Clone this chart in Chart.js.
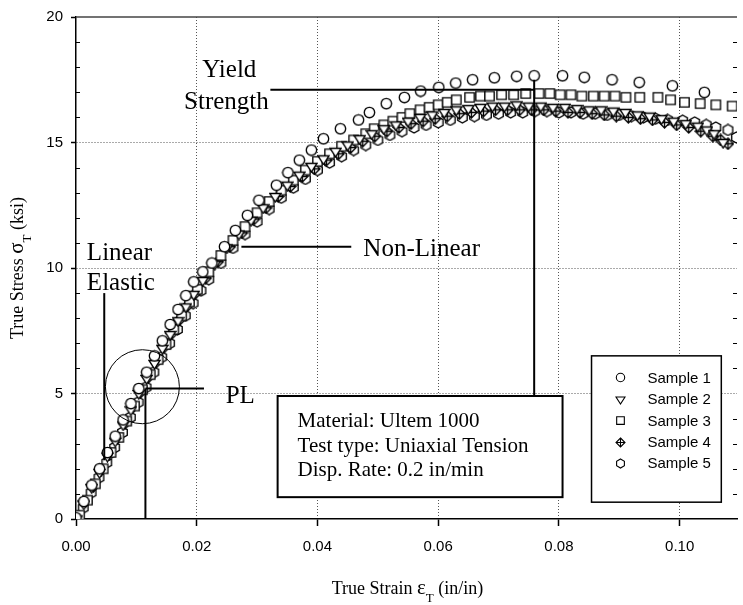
<!DOCTYPE html>
<html>
<head>
<meta charset="utf-8">
<script src="https://cdn.jsdelivr.net/npm/chart.js@4.4.1/dist/chart.umd.min.js"></script>
<style>
  html, body { margin: 0; padding: 0; background: #fff; }
  #c { display: block; }
</style>
</head>
<body>
<canvas id="c" width="743" height="605"></canvas>
<script>
// sample names and marker shapes
const sampleNames = ['Sample 1', 'Sample 2', 'Sample 3', 'Sample 4', 'Sample 5'];
const markerKinds = ['circle', 'triangle', 'square', 'diamond', 'hexagon'];

// true strain (in/in) / true stress (ksi)
const s1Strain = [0, 0.0013, 0.0026, 0.0039, 0.0052, 0.0065, 0.0078, 0.0091, 0.0104, 0.0117, 0.013, 0.0143, 0.0156, 0.0169, 0.0182, 0.0195, 0.021, 0.0225, 0.0246, 0.0264, 0.0284, 0.0303, 0.0332, 0.0351, 0.037, 0.039, 0.041, 0.0438, 0.0468, 0.0486, 0.0514, 0.0544, 0.0571, 0.0601, 0.0629, 0.0657, 0.0693, 0.073, 0.0759, 0.0806, 0.0842, 0.0888, 0.0933, 0.0988, 0.1041];
const s1Stress = [0.05, 0.7, 1.35, 2.0, 2.65, 3.3, 3.95, 4.6, 5.2, 5.85, 6.5, 7.1, 7.75, 8.35, 8.9, 9.45, 9.85, 10.2, 10.85, 11.5, 12.1, 12.7, 13.3, 13.8, 14.3, 14.7, 15.15, 15.55, 15.9, 16.2, 16.55, 16.8, 17.05, 17.2, 17.37, 17.5, 17.58, 17.64, 17.66, 17.66, 17.6, 17.5, 17.4, 17.26, 17.0];

const s2Strain = [0, 0.0013, 0.0026, 0.0039, 0.0052, 0.0065, 0.0078, 0.0091, 0.0104, 0.0117, 0.013, 0.0143, 0.0156, 0.0169, 0.0182, 0.0195, 0.021, 0.023, 0.025, 0.027, 0.029, 0.031, 0.033, 0.035, 0.037, 0.039, 0.041, 0.043, 0.045, 0.047, 0.049, 0.051, 0.053, 0.055, 0.057, 0.059, 0.061, 0.063, 0.065, 0.067, 0.069, 0.071, 0.073, 0.075, 0.077, 0.079, 0.081, 0.083, 0.085, 0.087, 0.089, 0.091, 0.093, 0.095, 0.097, 0.099, 0.101, 0.103, 0.1045, 0.1057, 0.1072];
const s2Stress = [0, 0.6, 1.25, 1.85, 2.5, 3.1, 3.75, 4.35, 5.0, 5.6, 6.2, 6.8, 7.35, 7.9, 8.45, 8.95, 9.5, 10.15, 10.8, 11.35, 11.9, 12.4, 12.85, 13.3, 13.7, 14.05, 14.35, 14.65, 14.9, 15.15, 15.35, 15.55, 15.7, 15.85, 16.0, 16.1, 16.2, 16.3, 16.35, 16.4, 16.45, 16.45, 16.5, 16.45, 16.45, 16.4, 16.4, 16.35, 16.3, 16.3, 16.25, 16.2, 16.1, 16.05, 15.95, 15.85, 15.75, 15.65, 15.5, 15.35, 15.0];

const s3Strain = [0.0006, 0.0019, 0.0032, 0.0045, 0.0058, 0.0071, 0.0084, 0.0097, 0.011, 0.0123, 0.0136, 0.0149, 0.0162, 0.0175, 0.0188, 0.0201, 0.022, 0.024, 0.026, 0.028, 0.030, 0.032, 0.034, 0.036, 0.038, 0.040, 0.042, 0.044, 0.046, 0.048, 0.0494, 0.051, 0.0525, 0.054, 0.0553, 0.057, 0.0585, 0.060, 0.0615, 0.063, 0.0652, 0.067, 0.0685, 0.0705, 0.0725, 0.0745, 0.0767, 0.0785, 0.0802, 0.0820, 0.0838, 0.0857, 0.0875, 0.0893, 0.0911, 0.0934, 0.0964, 0.0985, 0.1008, 0.1034, 0.106, 0.1087];
const s3Stress = [0.15, 0.75, 1.4, 2.0, 2.65, 3.25, 3.9, 4.5, 5.15, 5.75, 6.35, 6.95, 7.55, 8.1, 8.65, 9.15, 9.85, 10.5, 11.1, 11.65, 12.2, 12.65, 13.1, 13.5, 13.9, 14.25, 14.55, 14.85, 15.1, 15.35, 15.55, 15.7, 15.85, 16.0, 16.15, 16.3, 16.4, 16.5, 16.6, 16.7, 16.8, 16.85, 16.85, 16.9, 16.9, 16.95, 16.95, 16.95, 16.9, 16.9, 16.85, 16.85, 16.85, 16.85, 16.8, 16.8, 16.8, 16.7, 16.6, 16.55, 16.5, 16.45];

const s4Strain = [0.0003, 0.0016, 0.0029, 0.0042, 0.0055, 0.0068, 0.0081, 0.0094, 0.0107, 0.012, 0.0133, 0.0146, 0.0159, 0.0172, 0.0185, 0.0198, 0.0215, 0.0235, 0.0255, 0.0275, 0.0295, 0.0315, 0.0335, 0.0355, 0.0375, 0.0395, 0.0415, 0.0435, 0.0455, 0.0475, 0.0495, 0.0515, 0.0535, 0.0555, 0.0575, 0.0595, 0.0615, 0.0635, 0.0655, 0.0675, 0.0695, 0.0715, 0.0735, 0.0755, 0.0775, 0.0795, 0.0815, 0.0835, 0.0855, 0.0875, 0.0895, 0.0915, 0.0935, 0.0955, 0.0975, 0.0995, 0.1015, 0.1035, 0.1055, 0.1068, 0.108];
const s4Stress = [0.1, 0.7, 1.3, 1.95, 2.55, 3.2, 3.8, 4.45, 5.05, 5.65, 6.25, 6.85, 7.4, 7.95, 8.5, 9.0, 9.6, 10.25, 10.85, 11.4, 11.95, 12.4, 12.85, 13.25, 13.65, 13.95, 14.3, 14.55, 14.8, 15.05, 15.25, 15.45, 15.6, 15.75, 15.85, 15.95, 16.05, 16.15, 16.2, 16.25, 16.3, 16.3, 16.3, 16.3, 16.3, 16.25, 16.2, 16.2, 16.15, 16.1, 16.05, 16.0, 15.95, 15.9, 15.8, 15.7, 15.6, 15.45, 15.25, 15.1, 14.95];

const s5Strain = [0.0001, 0.0012, 0.0025, 0.0038, 0.0051, 0.0064, 0.0077, 0.009, 0.0103, 0.0116, 0.0129, 0.0142, 0.0155, 0.0168, 0.0181, 0.0194, 0.0207, 0.022, 0.024, 0.026, 0.028, 0.030, 0.032, 0.034, 0.036, 0.038, 0.040, 0.042, 0.044, 0.046, 0.048, 0.050, 0.052, 0.054, 0.056, 0.058, 0.060, 0.062, 0.064, 0.066, 0.068, 0.070, 0.072, 0.074, 0.076, 0.078, 0.080, 0.082, 0.084, 0.086, 0.088, 0.090, 0.092, 0.094, 0.096, 0.098, 0.1005, 0.1025, 0.1044, 0.106, 0.108, 0.1094];
const s5Stress = [0.05, 0.45, 1.05, 1.65, 2.25, 2.85, 3.45, 4.05, 4.65, 5.25, 5.85, 6.45, 7.0, 7.55, 8.1, 8.6, 9.1, 9.55, 10.2, 10.8, 11.35, 11.85, 12.35, 12.8, 13.2, 13.55, 13.9, 14.2, 14.45, 14.7, 14.9, 15.1, 15.3, 15.45, 15.6, 15.7, 15.8, 15.9, 16.0, 16.05, 16.1, 16.15, 16.2, 16.2, 16.25, 16.25, 16.2, 16.2, 16.15, 16.15, 16.1, 16.1, 16.05, 16.0, 15.95, 15.9, 15.87, 15.8, 15.7, 15.6, 15.5, 15.2];

// axes
const xTicks = [0, 0.02, 0.04, 0.06, 0.08, 0.10];
const yTicks = [0, 5, 10, 15, 20];
const yMinorTicks = [1, 2, 3, 4, 6, 7, 8, 9, 11, 12, 13, 14, 16, 17, 18, 19];
const infoLines = ['Material: Ultem 1000', 'Test type: Uniaxial Tension', 'Disp. Rate: 0.2 in/min'];

const SERIF = '"Liberation Serif", "Times New Roman", serif';
const SANS = '"Liberation Sans", Arial, sans-serif';

function marker(kind, size, lw) {
  const c = document.createElement('canvas');
  c.width = size; c.height = size;
  const g = c.getContext('2d');
  const m = size / 2, r = size / 2 - 1;
  g.lineWidth = lw;
  g.strokeStyle = '#000';
  g.fillStyle = '#fff';
  g.beginPath();
  if (kind === 'circle') {
    g.arc(m, m, r - 0.3, 0, Math.PI * 2);
  } else if (kind === 'triangle') {
    g.moveTo(m - r, m - r * 0.55); g.lineTo(m + r, m - r * 0.55); g.lineTo(m, m + r); g.closePath();
  } else if (kind === 'square') {
    g.rect(m - r * 0.85, m - r * 0.85, r * 1.7, r * 1.7);
  } else if (kind === 'diamond') {
    g.moveTo(m, m - r); g.lineTo(m + r, m); g.lineTo(m, m + r); g.lineTo(m - r, m); g.closePath();
  } else {
    for (let k = 0; k < 6; k++) {
      const a = -Math.PI / 2 + k * Math.PI / 3;
      const px = m + r * Math.cos(a), py = m + r * Math.sin(a);
      if (k) g.lineTo(px, py); else g.moveTo(px, py);
    }
    g.closePath();
  }
  g.fill();
  g.stroke();
  if (kind === 'diamond') {
    g.beginPath();
    g.moveTo(m, m - r); g.lineTo(m, m + r);
    g.moveTo(m - r, m); g.lineTo(m + r, m);
    g.stroke();
  }
  return c;
}

const strains = [s1Strain, s2Strain, s3Strain, s4Strain, s5Strain];
const stresses = [s1Stress, s2Stress, s3Stress, s4Stress, s5Stress];
const legendMarkers = markerKinds.map(k => marker(k, 11, 1.1));

const datasets = sampleNames.map((name, i) => ({
  label: name,
  data: strains[i].map((x, j) => ({ x: x, y: stresses[i][j] })),
  pointStyle: marker(markerKinds[i], 13, 1.35),
  pointRadius: 5,
  showLine: false
}));

function line(ctx, x1, y1, x2, y2) {
  ctx.beginPath(); ctx.moveTo(x1, y1); ctx.lineTo(x2, y2); ctx.stroke();
}

function drawParts(ctx, parts, cx, cy) {
  let w = 0;
  parts.forEach(p => { ctx.font = p.font; w += ctx.measureText(p.text).width; });
  let x = cx - w / 2;
  ctx.textAlign = 'left';
  ctx.textBaseline = 'alphabetic';
  parts.forEach(p => {
    ctx.font = p.font;
    ctx.fillText(p.text, x, cy + (p.dy || 0));
    x += ctx.measureText(p.text).width;
  });
}

const xTitle = [
  { text: 'True Strain ', font: '18px ' + SERIF },
  { text: 'ε', font: '21px ' + SERIF },
  { text: 'T', font: '13px ' + SERIF, dy: 8 },
  { text: ' (in/in)', font: '18px ' + SERIF }
];
const yTitle = [
  { text: 'True Stress ', font: '18px ' + SERIF },
  { text: 'σ', font: '21px ' + SERIF },
  { text: 'T', font: '13px ' + SERIF, dy: 8 },
  { text: ' (ksi)', font: '18px ' + SERIF }
];

const decorations = {
  id: 'decorations',
  afterDatasetsDraw(chart) {
    const { ctx, scales: { x, y } } = chart;
    const X = v => x.getPixelForValue(v), Y = v => y.getPixelForValue(v);
    ctx.save();
    ctx.strokeStyle = '#000';
    ctx.fillStyle = '#000';

    // proportional limit circle
    ctx.lineWidth = 1;
    ctx.beginPath(); ctx.arc(X(0.011), Y(5.27), 37, 0, Math.PI * 2); ctx.stroke();

    ctx.lineWidth = 2;
    line(ctx, X(0.0115), Y(5.2), X(0.0212), Y(5.2));
    line(ctx, X(0.0115), Y(5.2), X(0.0115), Y(0));
    line(ctx, X(0.00468), Y(9.0), X(0.00468), Y(2.34));
    line(ctx, X(0.0274), Y(10.85), X(0.0456), Y(10.85));
    line(ctx, X(0.0322), Y(17.1), X(0.0759), Y(17.1));
    line(ctx, X(0.0759), Y(17.5), X(0.0759), Y(4.9));

    ctx.textAlign = 'left';
    ctx.textBaseline = 'alphabetic';
    ctx.font = '25px ' + SERIF;
    ctx.fillText('Yield', X(0.0209), Y(17.62));
    ctx.fillText('Strength', X(0.0179), Y(16.35));
    ctx.fillText('Linear', X(0.0018), Y(10.33));
    ctx.fillText('Elastic', X(0.0018), Y(9.14));
    ctx.fillText('Non-Linear', X(0.0476), Y(10.49));
    ctx.fillText('PL', X(0.0248), Y(4.63));

    // info box
    const bl = X(0.0334), br = X(0.0806), bt = Y(4.9), bb = Y(0.87);
    ctx.fillStyle = '#fff';
    ctx.fillRect(bl, bt, br - bl, bb - bt);
    ctx.lineWidth = 2;
    ctx.strokeRect(bl, bt, br - bl, bb - bt);
    ctx.fillStyle = '#000';
    ctx.font = '21px ' + SERIF;
    infoLines.forEach((t, i) => ctx.fillText(t, bl + 20, bt + 31 + i * 24.5));

    // legend box
    const ll = X(0.0854), lr = X(0.1069), lt = Y(6.5), lb = Y(0.67);
    ctx.fillStyle = '#fff';
    ctx.fillRect(ll, lt, lr - ll, lb - lt);
    ctx.lineWidth = 1.5;
    ctx.strokeRect(ll, lt, lr - ll, lb - lt);
    ctx.fillStyle = '#000';
    ctx.font = '15px ' + SANS;
    chart.data.datasets.forEach((ds, i) => {
      const base = lt + 27 + i * 21.4;
      const img = legendMarkers[i];
      ctx.drawImage(img, Math.round(ll + 29 - img.width / 2), Math.round(base - 5 - img.height / 2));
      ctx.fillText(ds.label, ll + 56, base);
    });
    ctx.restore();
  },
  afterDraw(chart) {
    const { ctx, chartArea: a, scales: { y } } = chart;
    ctx.save();
    // top frame line
    ctx.strokeStyle = '#444';
    ctx.lineWidth = 1.5;
    line(ctx, a.left, a.top, a.right, a.top);
    // minor y ticks, inside
    ctx.strokeStyle = '#000';
    ctx.lineWidth = 1;
    yMinorTicks.forEach(v => {
      const py = Math.round(y.getPixelForValue(v)) + 0.5;
      line(ctx, a.left, py, a.left + 4, py);
      line(ctx, a.right - 4, py, a.right, py);
    });
    // axis titles
    ctx.fillStyle = '#000';
    drawParts(ctx, xTitle, (a.left + a.right) / 2 + 1, 594);
    ctx.translate(23, (a.top + a.bottom) / 2);
    ctx.rotate(-Math.PI / 2);
    drawParts(ctx, yTitle, 0, 0);
    ctx.restore();
  }
};

new Chart(document.getElementById('c'), {
  type: 'scatter',
  data: { datasets: datasets },
  options: {
    responsive: false,
    animation: false,
    devicePixelRatio: 1,
    events: [],
    layout: { padding: { top: 14, right: 0, bottom: 0, left: 0 } },
    plugins: { legend: { display: false }, tooltip: { enabled: false } },
    scales: {
      x: {
        type: 'linear',
        min: 0,
        max: 0.1095,
        afterBuildTicks: s => { s.ticks = xTicks.map(v => ({ value: v })); },
        afterFit: s => { s.height = 86; },
        ticks: {
          font: { family: SANS, size: 15 },
          color: '#000',
          padding: 12,
          maxRotation: 0,
          autoSkip: false,
          callback: v => Number(v).toFixed(2)
        },
        grid: {
          color: c => (c.tick && c.tick.value === 0) ? 'rgba(0,0,0,0)' : '#555',
          lineWidth: 1,
          tickLength: 7,
          tickColor: '#000',
          tickWidth: 1.5,
          tickBorderDash: []
        },
        border: { display: true, color: '#000', width: 1.5, dash: [1, 2] }
      },
      y: {
        type: 'linear',
        min: 0,
        max: 20,
        afterBuildTicks: s => { s.ticks = yTicks.map(v => ({ value: v })); },
        afterFit: s => { s.width = 76; },
        ticks: {
          font: { family: SANS, size: 15 },
          color: '#000',
          padding: 8,
          callback: v => String(v)
        },
        grid: {
          color: c => (c.tick && (c.tick.value === 0 || c.tick.value === 20)) ? 'rgba(0,0,0,0)' : '#555',
          lineWidth: 1,
          tickLength: 5,
          tickColor: '#000',
          tickWidth: 1.5,
          tickBorderDash: []
        },
        border: { display: true, color: '#000', width: 1.5, dash: [1, 2] }
      }
    }
  },
  plugins: [decorations]
});
</script>
</body>
</html>
